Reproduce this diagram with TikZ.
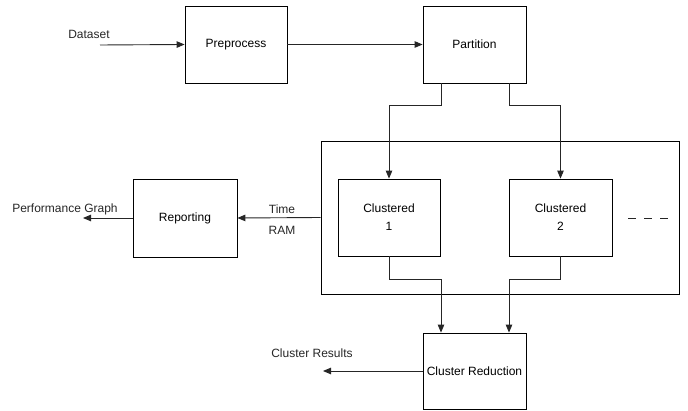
\documentclass[tikz,border=0pt]{standalone}
\usepackage{fontspec}
\setmainfont{Liberation Sans}
\usetikzlibrary{arrows.meta,calc}
\begin{document}
\begin{tikzpicture}[x=1pt,y=-1pt,
  font=\fontsize{12}{14}\selectfont,
  box/.style={draw=black,line width=0.8pt,rectangle,inner sep=0pt,align=center},
  arr/.style={draw=black!85,line width=0.9pt,-{Triangle[length=8pt,width=6.5pt]}},
  ln/.style={draw=black!85,line width=0.9pt},
  lbl/.style={inner sep=0pt,text=black!85}]
\useasboundingbox (0,0) rectangle (688,411);
\node[box,minimum width=358pt,minimum height=153pt] (cont) at (500,217.5) {};
\node[box,minimum width=102pt,minimum height=77pt] (pre) at (236,44.5) {Preprocess};
\node[box,minimum width=103pt,minimum height=77pt] (part) at (474.5,44.5) {Partition};
\node[box,minimum width=104pt,minimum height=78pt] (rep) at (185,218) {Reporting};
\node[box,minimum width=102pt,minimum height=77pt] (c1) at (389,217.5) {Clustered\\[4pt]1};
\node[box,minimum width=103pt,minimum height=77pt] (c2) at (560.5,217.5) {Clustered\\[4pt]2};
\node[box,minimum width=103pt,minimum height=76pt] (cr) at (474.5,371) {Cluster Reduction};
\coordinate (dsin) at (100,45);
\coordinate (pgout) at (83,218);
\coordinate (crout) at (323,371);
\coordinate (dash1) at (628,218);
\coordinate (dash2) at (668,218);
\node[lbl] (ds) at (89,34) {Dataset};
\node[lbl] (pg) at (65,209) {Performance Graph};
\node[lbl] (tm) at (282,209) {Time};
\node[lbl] (ram) at (282,230) {RAM};
\node[lbl] (cres) at (312,353) {Cluster Results};
\draw[arr] (dsin) -- (pre.west);
\draw[arr] (pre.east) -- (part.west);
\draw[arr] ([xshift=-33.5pt]part.south) -- ++(0,22) -| (c1.north);
\draw[arr] ([xshift=34.5pt]part.south) -- ++(0,22) -| (c2.north);
\draw[arr] (c1.south) -- ++(0,23) -| ([xshift=-33.5pt]cr.north);
\draw[arr] (c2.south) -- ++(0,23) -| ([xshift=34.5pt]cr.north);
\draw[arr] (cont.west) -- (rep.east);
\draw[arr] (rep.west) -- (pgout);
\draw[arr] (cr.west) -- (crout);
\draw[ln,dash pattern=on 8pt off 8pt] (dash1) -- (dash2);
\end{tikzpicture}
\end{document}
